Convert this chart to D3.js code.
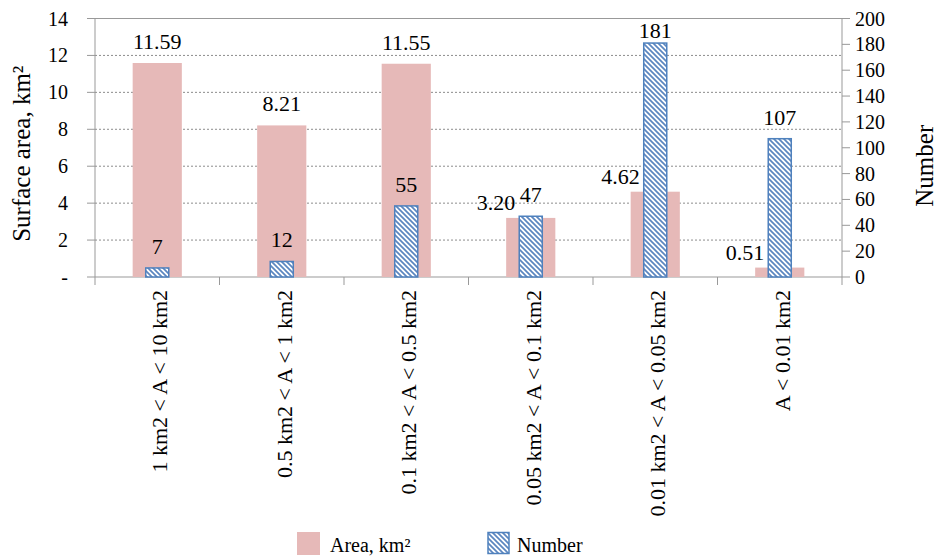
<!DOCTYPE html>
<html>
<head>
<meta charset="utf-8">
<script src="https://cdn.jsdelivr.net/npm/d3@7"></script>
</head>
<body style="margin:0">
<div id="chart"></div>
<script>
// Data
const categories = ["1 km2 < A < 10 km2", "0.5 km2 < A < 1 km2", "0.1 km2 < A < 0.5 km2",
                    "0.05 km2 < A < 0.1 km2", "0.01 km2 < A < 0.05 km2", "A < 0.01 km2"];
const areaValues = [11.59, 8.21, 11.55, 3.20, 4.62, 0.51];
const numberValues = [7, 12, 55, 47, 181, 107];
const leftTicks = [0, 2, 4, 6, 8, 10, 12, 14];
const rightTicks = [0, 20, 40, 60, 80, 100, 120, 140, 160, 180, 200];

const W = 939, H = 558;
let margin = {top: 18.5, right: 97, bottom: 281, left: 95},
    width = W - margin.left - margin.right,
    height = H - margin.top - margin.bottom;

const pink = "#e6b9b8", blue = "#4f81bd";
const fontName = "Times New Roman";

function serifText(sel, size) {
  return sel.attr("font-family", fontName).attr("font-size", size);
}

let svg = d3.select("#chart")
  .append("svg")
    .attr("width", W)
    .attr("height", H)
    .attr("font-family", fontName);

// hatch pattern for the Number bars
let pat = svg.append("defs").append("pattern")
    .attr("id", "hatch")
    .attr("patternUnits", "userSpaceOnUse")
    .attr("width", 5).attr("height", 5);
pat.append("rect").attr("width", 5).attr("height", 5).attr("fill", "#fff");
pat.append("path")
    .attr("d", "M-1,-1L6,6M-1,4L1,6M4,-1L6,1")
    .attr("stroke", "#5b86c0").attr("stroke-width", 1.7);

// scales
let x = d3.scaleBand().domain(categories).range([margin.left, margin.left + width]);
let yL = d3.scaleLinear().domain([0, 14]).range([margin.top + height, margin.top]);
let yR = d3.scaleLinear().domain([0, 200]).range([margin.top + height, margin.top]);
const x0 = margin.left, x1 = margin.left + width, yB = margin.top + height;

// gridlines
svg.append("g").selectAll("line")
  .data(leftTicks.filter(d => d > 0 && d < 14))
  .enter().append("line")
    .attr("x1", x0).attr("x2", x1)
    .attr("y1", d => yL(d)).attr("y2", d => yL(d))
    .attr("stroke", "#6f6f6f")
    .attr("stroke-dasharray", "2,2")
    .attr("stroke-width", 0.8);
svg.append("line")
    .attr("x1", x0).attr("x2", x1)
    .attr("y1", yL(14)).attr("y2", yL(14))
    .attr("stroke", "#999");

// axis lines and ticks
svg.append("line").attr("x1", x0).attr("x2", x0).attr("y1", yL(14)).attr("y2", yB).attr("stroke", "#999");
svg.append("line").attr("x1", x1).attr("x2", x1).attr("y1", yL(14)).attr("y2", yB).attr("stroke", "#999");
svg.append("line").attr("x1", x0).attr("x2", x1).attr("y1", yB).attr("y2", yB).attr("stroke", "#999");

svg.append("g").selectAll("line")
  .data(leftTicks).enter().append("line")
    .attr("x1", x0 - 8).attr("x2", x0)
    .attr("y1", d => yL(d)).attr("y2", d => yL(d))
    .attr("stroke", "#999");
svg.append("g").selectAll("line")
  .data(rightTicks).enter().append("line")
    .attr("x1", x1).attr("x2", x1 + 8)
    .attr("y1", d => yR(d)).attr("y2", d => yR(d))
    .attr("stroke", "#999");
svg.append("g").selectAll("line")
  .data(d3.range(categories.length + 1)).enter().append("line")
    .attr("x1", i => x0 + i * x.step()).attr("x2", i => x0 + i * x.step())
    .attr("y1", yB).attr("y2", yB + 8)
    .attr("stroke", "#999");

// tick labels
serifText(svg.append("g").selectAll("text")
  .data(leftTicks).enter().append("text")
    .attr("x", x0 - 27)
    .attr("y", d => yL(d) + 7)
    .attr("text-anchor", "end")
    .text(d => d === 0 ? "-" : d), 20);
serifText(svg.append("g").selectAll("text")
  .data(rightTicks).enter().append("text")
    .attr("x", x1 + 13)
    .attr("y", d => yR(d) + 7)
    .attr("text-anchor", "start")
    .text(d => d), 20);

// category labels
serifText(svg.append("g").selectAll("text")
  .data(categories)
  .enter().append("text")
    .attr("transform", d => "translate(" + (x(d) + x.bandwidth() / 2 + 10) + "," + (yB + 13) + ") rotate(-90)")
    .attr("text-anchor", "end")
    .text(d => d), 22);

// bars
const areaW = x.bandwidth() * 0.395, numW = x.bandwidth() * 0.185;
svg.append("g").selectAll("rect")
  .data(areaValues)
  .enter().append("rect")
    .attr("x", (d, i) => x(categories[i]) + x.bandwidth() / 2 - areaW / 2)
    .attr("y", d => yL(d))
    .attr("width", areaW)
    .attr("height", d => yB - yL(d))
    .attr("fill", pink);

svg.append("g").selectAll("rect")
  .data(numberValues)
  .enter().append("rect")
    .attr("x", (d, i) => x(categories[i]) + x.bandwidth() / 2 - numW / 2)
    .attr("y", d => yR(d))
    .attr("width", numW)
    .attr("height", d => yB - yR(d))
    .attr("fill", "url(#hatch)")
    .attr("stroke", blue)
    .attr("stroke-width", 1.5);

// area labels: above the bar, or left of the Number bar if that one is taller
const beside = i => yR(numberValues[i]) < yL(areaValues[i]);
serifText(svg.append("g").selectAll("text")
  .data(areaValues)
  .enter().append("text")
    .attr("x", (d, i) => {
      const cx = x(categories[i]) + x.bandwidth() / 2;
      return beside(i) ? cx - numW / 2 - 4 : cx;
    })
    .attr("y", (d, i) => beside(i) ? yL(d) - 8 : yL(d) - 14)
    .attr("text-anchor", (d, i) => beside(i) ? "end" : "middle")
    .text(d => d.toFixed(2)), 22);

// number labels
serifText(svg.append("g").selectAll("text")
  .data(numberValues)
  .enter().append("text")
    .attr("x", (d, i) => x(categories[i]) + x.bandwidth() / 2)
    .attr("y", d => Math.max(yR(d) - 14, yL(14) + 19))
    .attr("text-anchor", "middle")
    .text(d => d), 22);

// axis titles
serifText(svg.append("text")
    .attr("transform", "translate(30," + (margin.top + height / 2 + 6) + ") rotate(-90)")
    .attr("text-anchor", "middle")
    .text("Surface area, km²"), 25);
serifText(svg.append("text")
    .attr("transform", "translate(933," + (margin.top + height / 2 + 18) + ") rotate(-90)")
    .attr("text-anchor", "middle")
    .text("Number"), 25);

// legend
svg.append("rect").attr("x", 297).attr("y", 532).attr("width", 23).attr("height", 23).attr("fill", pink);
serifText(svg.append("text").attr("x", 330).attr("y", 552).text("Area, km²"), 20);
svg.append("rect").attr("x", 488).attr("y", 532.5).attr("width", 21).attr("height", 21)
    .attr("fill", "url(#hatch)").attr("stroke", blue).attr("stroke-width", 1.5);
serifText(svg.append("text").attr("x", 517).attr("y", 552).text("Number"), 20);
</script>
</body>
</html>
